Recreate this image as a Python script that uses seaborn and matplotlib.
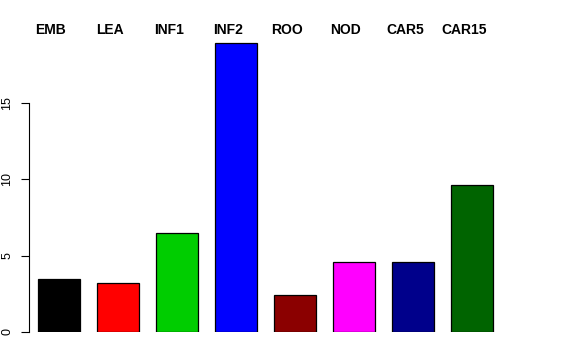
import numpy as np
import pandas as pd
import matplotlib
matplotlib.use("Agg")
import matplotlib.pyplot as plt
import seaborn as sns

# data
tissues = ["EMB", "LEA", "INF1", "INF2", "ROO", "NOD", "CAR5", "CAR15"]
values = [3.45, 3.2, 6.45, 18.95, 2.38, 4.56, 4.56, 9.62]
colors = ["#000000", "#FF0000", "#00CD00", "#0000FF",
          "#8B0000", "#FF00FF", "#00008B", "#006400"]

df = pd.DataFrame({"tissue": tissues, "value": values})

sns.set_style("white")
plt.rcParams["font.family"] = ["Liberation Sans", "DejaVu Sans"]
plt.rcParams["text.color"] = "black"

W, H = 576, 360
fig = plt.figure(figsize=(W / 100, H / 100), dpi=100)

# axes placed in pixel terms: left spine at x=28.7, y=0 at pixel 331.7
left_px, right_px = 28.7, 560
bottom_px, top_px = 331.7, 20
ax = fig.add_axes([left_px / W, (H - bottom_px) / H,
                   (right_px - left_px) / W, (bottom_px - top_px) / H])

sns.barplot(data=df, x="tissue", y="value", hue="tissue", palette=colors,
            legend=False, width=0.712, edgecolor="black", linewidth=0.9,
            saturation=1, ax=ax)

step = 59.0
ax.set_xlim((left_px - 59) / step, (right_px - 59) / step)
ppu = 15.23
ax.set_ylim(0, (bottom_px - top_px) / ppu)

for s in ["top", "right", "bottom"]:
    ax.spines[s].set_visible(False)
ax.spines["left"].set_bounds(0, 15)
ax.spines["left"].set_linewidth(0.8)
ax.spines["left"].set_color("black")

ax.set_xticks([])
ax.set_yticks([0, 5, 10, 15])
ax.set_yticklabels(["0", "5", "10", "15"], rotation=90, va="center", fontsize=9)
ax.tick_params(axis="y", direction="out", length=6, width=0.8, pad=5,
               left=True, colors="black", labelcolor="black")
ax.set_xlabel("")
ax.set_ylabel("")

# tissue names across the top
ylab = (bottom_px - 30) / ppu
for i, t in enumerate(tissues):
    ax.text(i - 0.136, ylab, t, ha="center", va="center", color="black",
            fontsize=10, fontweight="bold", clip_on=False)

fig.savefig("out.png", dpi=100)
